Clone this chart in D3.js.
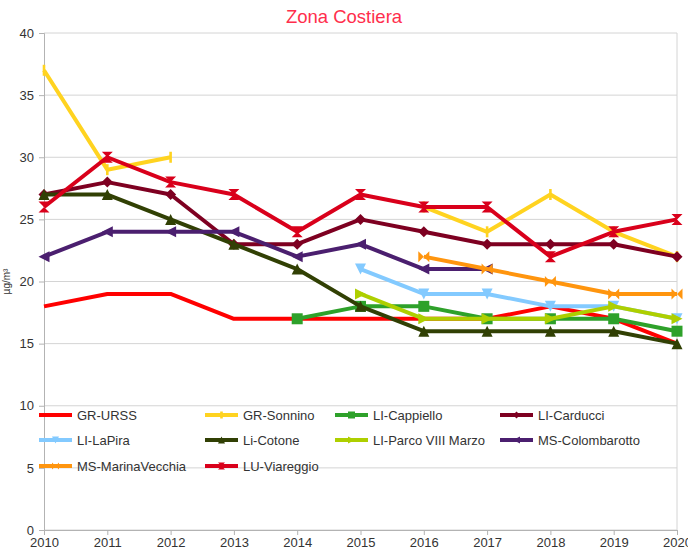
<!DOCTYPE html>
<html>
<head>
<meta charset="utf-8">
<script src="https://cdn.jsdelivr.net/npm/d3@7"></script>
<style>
  body { margin: 0; background: #fff; }
  text { font-family: "Liberation Sans", Arial, sans-serif; }
</style>
</head>
<body>
<script>
// Data
const years = [2010, 2011, 2012, 2013, 2014, 2015, 2016, 2017, 2018, 2019, 2020];
const yTicks = [0, 5, 10, 15, 20, 25, 30, 35, 40];

const grUrss        = [18, 19, 19, 17, 17, 17, 17, 17, 18, 17, 15];
const grSonnino     = [37, 29, 30, null, null, null, 26, 24, 27, 24, 22];
const liCappiello   = [null, null, null, null, 17, 18, 18, 17, 17, 17, 16];
const liCarducci    = [27, 28, 27, 23, 23, 25, 24, 23, 23, 23, 22];
const liLaPira      = [null, null, null, null, null, 21, 19, 19, 18, 18, 17];
const liCotone      = [27, 27, 25, 23, 21, 18, 16, 16, 16, 16, 15];
const liParco       = [null, null, null, null, null, 19, 17, 17, 17, 18, 17];
const msColombarotto = [22, 24, 24, 24, 22, 23, 21, 21, null, null, null];
const msMarinaVecchia = [null, null, null, null, null, null, 22, 21, 20, 19, 19];
const luViareggio   = [26, 30, 28, 27, 24, 27, 26, 26, 22, 24, 25];

const seriesNames = ["GR-URSS", "GR-Sonnino", "LI-Cappiello", "LI-Carducci", "LI-LaPira",
  "Li-Cotone", "LI-Parco VIII Marzo", "MS-Colombarotto", "MS-MarinaVecchia", "LU-Viareggio"];
const seriesValues = [grUrss, grSonnino, liCappiello, liCarducci, liLaPira,
  liCotone, liParco, msColombarotto, msMarinaVecchia, luViareggio];
const seriesColors = ["#ff0000", "#ffd320", "#2ea12a", "#7e0021", "#83caff",
  "#314004", "#aecf00", "#4b1f6f", "#ff950e", "#d9001b"];
const seriesSymbols = ["none", "vbar", "square", "diamond", "down",
  "up", "right", "left", "bowtie", "hourglass"];

const width = 688, height = 558;
const margin = { top: 33, right: 11, bottom: 28, left: 44 };

const svg = d3.select("body").append("svg")
  .attr("width", width)
  .attr("height", height);

const x = d3.scaleLinear().domain([2010, 2020]).range([margin.left, width - margin.right]);
const y = d3.scaleLinear().domain([0, 40]).range([height - margin.bottom, margin.top]);

// Title
svg.append("text")
  .attr("x", width / 2).attr("y", 23)
  .attr("text-anchor", "middle")
  .attr("font-size", 18.5)
  .attr("fill", "#ff2e4c")
  .text("Zona Costiera");

// Axis label
svg.append("text")
  .attr("transform", `translate(10,${y(20)}) rotate(-90)`)
  .attr("text-anchor", "middle")
  .attr("font-size", 10)
  .attr("fill", "#333")
  .text("µg/m³");

// Grid
svg.append("g").selectAll("line")
  .data(yTicks)
  .join("line")
  .attr("x1", x(2010)).attr("x2", x(2020))
  .attr("y1", d => y(d)).attr("y2", d => y(d))
  .attr("stroke", "#d4d4d4").attr("stroke-width", 1);

svg.append("line")
  .attr("x1", x(2020)).attr("x2", x(2020))
  .attr("y1", y(40)).attr("y2", y(0))
  .attr("stroke", "#d4d4d4");

// Axes
const yAxis = svg.append("g")
  .attr("transform", `translate(${x(2010)},0)`)
  .call(d3.axisLeft(y).tickValues(yTicks).tickSize(5).tickPadding(5));
const xAxis = svg.append("g")
  .attr("transform", `translate(0,${y(0)})`)
  .call(d3.axisBottom(x).tickValues(years).tickFormat(d3.format("d")).tickSize(5).tickPadding(3));

[xAxis, yAxis].forEach(g => {
  g.select(".domain").attr("stroke", "#b3b3b3");
  g.selectAll(".tick line").attr("stroke", "#b3b3b3");
  g.selectAll(".tick text")
    .attr("font-size", 13)
    .attr("fill", "#333")
    .attr("font-family", "Liberation Sans, Arial, sans-serif");
});

// Marker shapes
function markerPath(type, s) {
  switch (type) {
    case "square": return `M${-s},${-s}H${s}V${s}H${-s}Z`;
    case "diamond": return `M0,${-s}L${s},0L0,${s}L${-s},0Z`;
    case "down": return `M${-s},${-s}L${s},${-s}L0,${s}Z`;
    case "up": return `M${-s},${s}L${s},${s}L0,${-s}Z`;
    case "right": return `M${-s},${-s}L${s},0L${-s},${s}Z`;
    case "left": return `M${s},${-s}L${-s},0L${s},${s}Z`;
    case "bowtie": return `M${-s},${-s}L${s},${s}L${s},${-s}L${-s},${s}Z`;
    case "hourglass": return `M${-s},${-s}L${s},${-s}L${-s},${s}L${s},${s}Z`;
    case "vbar": return `M-1.3,${-s}H1.3V${s}H-1.3Z`;
    default: return "";
  }
}

const line = d3.line()
  .defined(d => d.v !== null)
  .x(d => x(d.year))
  .y(d => y(d.v));

const plot = svg.append("g");
seriesValues.forEach((vals, i) => {
  const pts = years.map((year, j) => ({ year, v: vals[j] }));
  plot.append("path")
    .datum(pts)
    .attr("fill", "none")
    .attr("stroke", seriesColors[i])
    .attr("stroke-width", 4)
    .attr("stroke-linejoin", "round")
    .attr("d", line);
  if (seriesSymbols[i] !== "none") {
    plot.append("g").selectAll("path")
      .data(pts.filter(d => d.v !== null))
      .join("path")
      .attr("transform", d => `translate(${x(d.year)},${y(d.v)})`)
      .attr("d", markerPath(seriesSymbols[i], 5.5))
      .attr("fill", seriesColors[i]);
  }
});

// Legend
const legendCols = [39, 205, 335, 500];
const legendRows = [415, 440, 466];
const legend = svg.append("g");
seriesNames.forEach((name, i) => {
  const lx = legendCols[i % 4];
  const ly = legendRows[Math.floor(i / 4)];
  legend.append("line")
    .attr("x1", lx).attr("x2", lx + 33)
    .attr("y1", ly).attr("y2", ly)
    .attr("stroke", seriesColors[i]).attr("stroke-width", 4);
  if (seriesSymbols[i] !== "none") {
    legend.append("path")
      .attr("transform", `translate(${lx + 16.5},${ly})`)
      .attr("d", markerPath(seriesSymbols[i], 3.5))
      .attr("fill", seriesColors[i]);
  }
  legend.append("text")
    .attr("x", lx + 38).attr("y", ly)
    .attr("dy", "0.35em")
    .attr("font-size", 13)
    .attr("fill", "#333")
    .text(name);
});
</script>
</body>
</html>
